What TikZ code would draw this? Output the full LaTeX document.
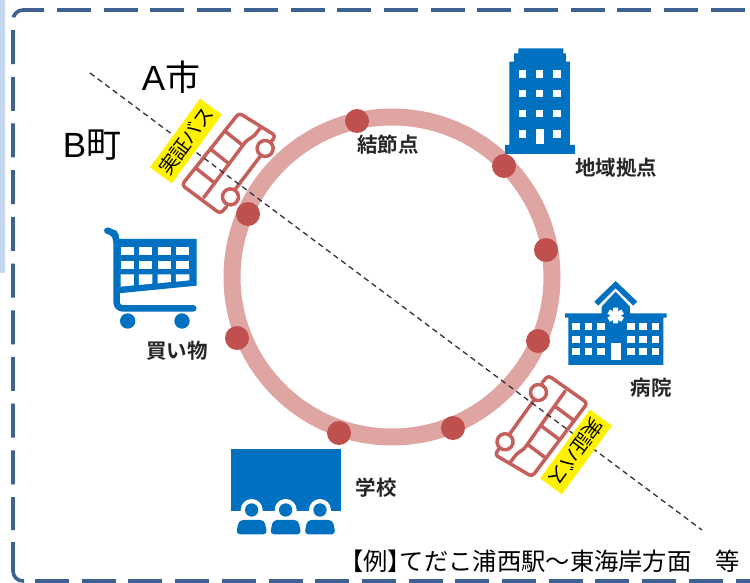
\documentclass[tikz,border=0pt]{standalone}
\usepackage{fontspec}
\setmainfont{Liberation Sans}
\newfontfamily\cjk{Noto Sans CJK JP}[BoldFont={Noto Sans CJK JP Bold}]
\definecolor{framec}{HTML}{3D6291}
\definecolor{ringc}{HTML}{DFA5A3}
\definecolor{dotc}{HTML}{C0504D}
\definecolor{busc}{HTML}{C45F5C}
\definecolor{iconc}{HTML}{0070C0}
\definecolor{stripc}{HTML}{C5D8EF}
\tikzset{
  frameline/.style={draw=framec,line width=3.6pt},
  framedash/.style={frameline,dash pattern=on 34pt off 12.7pt},
  stopdot/.style={circle,fill=dotc,minimum size=24pt,inner sep=0pt},
  place/.style={font=\cjk\bfseries\fontsize{20.5}{22}\selectfont,inner sep=0pt,text=black!85},
  area/.style={font=\cjk\fontsize{35}{38}\selectfont,inner sep=0pt},
  tag/.style={fill=yellow,text=black,minimum width=85pt,minimum height=27pt,inner sep=0pt,font=\cjk\fontsize{19.5}{22}\selectfont},
  busline/.style={draw=busc,line width=3.5pt,line join=round,line cap=round},
  icon/.style={x=0.3333pt,y=-0.3333pt}
}
\newcommand{\busshape}{%
  \draw[busline,rounded corners=3.5pt,fill=white] (11,-3.5) -- (1.5,-3) -- (0,45) -- (92,45) -- (97,2) -- (89,2);
  \draw[busline] (29,0.5) -- (72,1.5);
  \draw[busline,rounded corners=3pt] (4,20) -- (75,22) -- (83,19) -- (95,19);
  \draw[busline] (22,21) -- (22,45) (46,21.5) -- (46,45) (69,22) -- (69,45);
  \draw[busline,fill=white] (21,-0.5) circle[radius=8] (80.5,2.5) circle[radius=8];
}
\begin{document}
\begin{tikzpicture}[x=1pt,y=-1pt]
\useasboundingbox (0,0) rectangle (750,583);
\fill[white] (0,0) rectangle (750,583);
\fill[stripc] (0,0) rectangle (5,273);
% frame
\draw[framedash] (57,10) -- (750,10);
\draw[framedash] (44,10) -- (23,10) arc[start angle=270,end angle=180,radius=10] -- (13,530);
\draw[frameline] (13,542) -- (13,571) arc[start angle=180,end angle=90,radius=10] -- (24,581);
\draw[framedash] (35,581) -- (750,581);
% ring
\draw[ringc,line width=17pt] (392,277) circle[radius=160];
% boundary
\coordinate (lineA) at (90,73);
\coordinate (lineB) at (702,530);
% buses
\begin{scope}[shift={(217,213)},x=1pt,y=1pt,rotate=51.5]\busshape\end{scope}
\begin{scope}[shift={(551.5,376)},x=1pt,y=1pt,rotate=233]\busshape\end{scope}
\draw[black!80,line width=1.3pt,dash pattern=on 5.5pt off 4pt] (lineA) -- (lineB);
% stops
\node[stopdot] (s1) at (357,121) {};
\node[stopdot] (s2) at (504,166) {};
\node[stopdot] (s3) at (546,250) {};
\node[stopdot] (s4) at (538,341) {};
\node[stopdot] (s5) at (453,428) {};
\node[stopdot] (s6) at (339,433) {};
\node[stopdot] (s7) at (237,338) {};
\node[stopdot] (s8) at (248,214) {};
\node[tag,rotate=54] (tag1) at (186,141) {実証バス};
\node[tag,rotate=234] (tag2) at (576,452) {実証バス};
% building
\begin{scope}[shift={(490,30)},icon]
\fill[iconc] (58,345) -- (58,95) -- (72,95) -- (72,70) -- (85,70) -- (85,55) -- (220,55) -- (220,70) -- (228,70) -- (228,95) -- (240,95) -- (240,345) -- (255,345) -- (255,372) -- (45,372) -- (45,345) -- cycle;
\foreach \cx in {97,149,201}{\foreach \cy in {132,190,250}{\fill[white] (\cx-11,\cy-11) rectangle (\cx+11,\cy+11);}}
\foreach \cx in {97,201}{\fill[white] (\cx-11,301) rectangle (\cx+11,323);}
\fill[white] (139,298) rectangle (161,342);
\end{scope}
% hospital
\begin{scope}[shift={(550,270)},icon]
\fill[iconc] (197,33) -- (262,95) -- (250,107) -- (197,55) -- (145,107) -- (133,95) -- cycle;
\fill[iconc] (197,65) -- (240,110) -- (240,130) -- (350,130) -- (350,143) -- (340,143) -- (340,285) -- (55,285) -- (55,143) -- (45,143) -- (45,130) -- (155,130) -- (155,110) -- cycle;
\foreach \cx in {67,104,141,231,268,305}{\foreach \cy in {160,197,233}{\fill[white] (\cx,\cy) rectangle (\cx+23,\cy+21);}}
\fill[white] (182,218) rectangle (213,270);
\draw[white,line width=5pt] (197,113) -- (197,160) (176,125) -- (218,149) (176,149) -- (218,125);
\end{scope}
% cart
\begin{scope}[shift={(90,215)},icon]
\draw[iconc,line width=6.5pt,line cap=round,line join=round,rounded corners=6pt] (52,47) -- (70,50) -- (80,70) -- (80,280) -- (310,280);
\fill[iconc] (80,72) -- (320,72) -- (320,212) -- (85,235) -- cycle;
\foreach \cx in {92,147,203,258}{\foreach \cy in {97,137}{\fill[white] (\cx,\cy) rectangle (\cx+40,\cy+24);}}
\fill[white] (92,178) -- (132,178) -- (132,211) -- (92,215) -- cycle;
\fill[white] (147,178) -- (187,178) -- (187,206) -- (147,210) -- cycle;
\fill[white] (203,178) -- (243,178) -- (243,201) -- (203,205) -- cycle;
\fill[white] (258,178) -- (298,178) -- (298,196) -- (258,200) -- cycle;
\fill[iconc] (113,318) circle[radius=23] (276,318) circle[radius=23];
\end{scope}
% school
\begin{scope}[shift={(220,440)},icon]
\fill[iconc] (33,28) rectangle (363,212);
\foreach \cx in {95,197,300}{
  \fill[white] (\cx,210) circle[radius=33];
  \fill[white] (\cx-50,236) rectangle (\cx+50,290);
  \fill[iconc] (\cx,210) circle[radius=20];
  \fill[iconc,rounded corners=4pt] (\cx-47,283) -- (\cx-38,240) -- (\cx+38,240) -- (\cx+47,283) -- cycle;
}
\end{scope}
% labels
\node[area] (cityA) at (171,77) {{\fontspec{Liberation Sans}A}市};
\node[area] (townB) at (92,145) {{\fontspec{Liberation Sans}B}町};
\node[place] (t1) at (388,145) {結節点};
\node[place] (t2) at (616,168) {地域拠点};
\node[place] (t3) at (651,388) {病院};
\node[place] (t4) at (376,488) {学校};
\node[place] (t5) at (177,351) {買い物};
\node[anchor=east,inner sep=0pt,font=\cjk\fontsize{24.3}{26}\selectfont] (ex) at (740,561) {【例】\kern-12ptてだこ浦西駅～東海岸方面\kern24pt 等};
\end{tikzpicture}
\end{document}
